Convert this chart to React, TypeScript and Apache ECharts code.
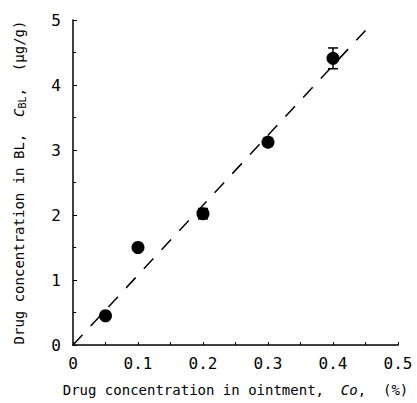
import React, { useEffect, useRef } from "react";
import * as echarts from "echarts";

const xValues = [0.05, 0.1, 0.2, 0.3, 0.4];
const yValues = [0.45, 1.5, 2.02, 3.12, 4.41];
const yErrors = [0.0, 0.0, 0.08, 0.06, 0.16];
const fitLine = [
  [0, 0],
  [0.45, 4.84],
];
const xTicks = [0, 0.1, 0.2, 0.3, 0.4, 0.5];
const yTicks = [0, 1, 2, 3, 4, 5];

const FONT = "'DejaVu Sans Mono', 'Liberation Mono', monospace";

export default function App() {
  const ref = useRef<HTMLDivElement>(null);
  useEffect(() => {
    if (!ref.current) return;
    const chart = echarts.init(ref.current, undefined, { renderer: "svg" });
    const errData = xValues.map((x, i) => [x, yValues[i] - yErrors[i], yValues[i] + yErrors[i]]);
    chart.setOption({
      animation: false,
      backgroundColor: "#fff",
      grid: { left: 73, top: 20, right: 19, bottom: 58 },
      xAxis: {
        type: "value",
        min: 0,
        max: 0.5,
        interval: 0.1,
        name: "{a|Drug concentration in ointment,  }{i|Co}{a|,  (%)}",
        nameLocation: "middle",
        nameGap: 38,
        nameTextStyle: {
          rich: {
            a: { fontFamily: FONT, fontSize: 14, color: "#000" },
            i: { fontFamily: FONT, fontSize: 14, color: "#000", fontStyle: "italic" },
          },
        },
        axisLine: { show: true, lineStyle: { color: "#000", width: 1.5 } },
        axisTick: { show: true, inside: true, length: 3, lineStyle: { color: "#000" } },
        minorTick: { show: true, splitNumber: 2, length: 3, lineStyle: { color: "#000" } },
        splitLine: { show: false },
        axisLabel: {
          margin: 10,
          fontFamily: FONT,
          fontSize: 16,
          color: "#000",
          formatter: (v: number) => (xTicks.some((t) => Math.abs(t - v) < 1e-9) ? (v === 0 ? "0" : v.toFixed(1)) : ""),
        },
      },
      yAxis: {
        type: "value",
        min: 0,
        max: 5,
        interval: 1,
        name: "{a|Drug concentration in BL,  }{i|C}{s|BL}{a|,  (μg/g)}",
        nameLocation: "middle",
        nameGap: 46,
        nameRotate: 90,
        nameTextStyle: {
          rich: {
            a: { fontFamily: FONT, fontSize: 14, color: "#000" },
            i: { fontFamily: FONT, fontSize: 14, color: "#000", fontStyle: "italic" },
            s: { fontFamily: FONT, fontSize: 10, color: "#000", verticalAlign: "bottom", padding: [6, 0, 0, 0] },
          },
        },
        axisLine: { show: true, lineStyle: { color: "#000", width: 1.5 } },
        axisTick: { show: true, inside: true, length: 4, lineStyle: { color: "#000" } },
        minorTick: { show: true, splitNumber: 2, length: 3, lineStyle: { color: "#000" } },
        splitLine: { show: false },
        axisLabel: {
          margin: 12,
          fontFamily: FONT,
          fontSize: 16,
          color: "#000",
          formatter: (v: number) => (yTicks.includes(v) ? String(v) : ""),
        },
      },
      series: [
        {
          type: "line",
          data: fitLine,
          symbol: "none",
          lineStyle: { color: "#000", width: 1.5, type: [14, 12] },
          z: 1,
        },
        {
          type: "custom",
          data: errData,
          renderItem: (params: any, api: any) => {
            const x = api.value(0);
            const lo = api.coord([x, api.value(1)]);
            const hi = api.coord([x, api.value(2)]);
            if (Math.abs(lo[1] - hi[1]) < 1) return { type: "group", children: [] };
            const w = 5;
            const st = { stroke: "#000", lineWidth: 1.5 };
            return {
              type: "group",
              children: [
                { type: "line", shape: { x1: lo[0], y1: lo[1], x2: hi[0], y2: hi[1] }, style: st },
                { type: "line", shape: { x1: hi[0] - w, y1: hi[1], x2: hi[0] + w, y2: hi[1] }, style: st },
                { type: "line", shape: { x1: lo[0] - w, y1: lo[1], x2: lo[0] + w, y2: lo[1] }, style: st },
              ],
            };
          },
          z: 2,
        },
        {
          type: "scatter",
          data: xValues.map((x, i) => [x, yValues[i]]),
          symbol: "circle",
          symbolSize: 13,
          itemStyle: { color: "#000", opacity: 1 },
          z: 3,
        },
      ],
    });
    return () => chart.dispose();
  }, []);
  return (
    <div
      ref={ref}
      style={{ position: "absolute", left: 0, top: 0, width: 417, height: 403 }}
    />
  );
}
